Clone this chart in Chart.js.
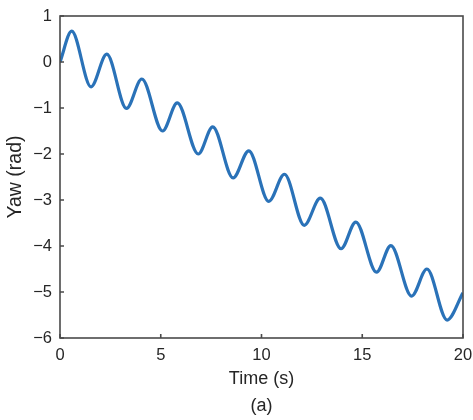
<!DOCTYPE html>
<html>
<head>
<meta charset="utf-8">
<script src="https://cdn.jsdelivr.net/npm/chart.js@4/dist/chart.umd.min.js"></script>
<style>
  html, body { margin: 0; padding: 0; background: #fff; }
  #wrap { width: 473px; height: 420px; }
</style>
</head>
<body>
<div id="wrap"><canvas id="myChart"></canvas></div>
<script>
// values (peaks and troughs of the yaw curve)
var timeS = [0, 0.58, 1.54, 2.32, 3.30, 4.06, 5.09, 5.82, 6.86, 7.58, 8.59, 9.37,
             10.36, 11.14, 12.12, 12.92, 13.95, 14.68, 15.71, 16.42, 17.45, 18.21, 19.21, 20];
var yawRad = [0, 0.67, -0.54, 0.17, -1.01, -0.37, -1.50, -0.89, -2.00, -1.41, -2.52, -1.93,
              -3.03, -2.44, -3.55, -2.96, -4.06, -3.48, -4.57, -3.99, -5.09, -4.50, -5.61, -5.02];
var xTicks = [0, 5, 10, 15, 20];
var yTicks = [1, 0, -1, -2, -3, -4, -5, -6];

var fontFam = '"Liberation Sans", Arial, sans-serif';
var textCol = '#262626';
var axisCol = '#4a4a4a';

// box around plot + short inward ticks
var boxPlugin = {
    id: 'box',
    afterDraw: function (chart) {
        var a = chart.chartArea, c = chart.ctx, xs = chart.scales.x, ys = chart.scales.y;
        c.save();
        c.strokeStyle = axisCol;
        c.lineWidth = 1.6;
        c.strokeRect(a.left, a.top, a.right - a.left, a.bottom - a.top);
        c.beginPath();
        xTicks.forEach(function (v) {
            var px = xs.getPixelForValue(v);
            c.moveTo(px, a.bottom);
            c.lineTo(px, a.bottom - 4);
        });
        yTicks.forEach(function (v) {
            var py = ys.getPixelForValue(v);
            c.moveTo(a.left, py);
            c.lineTo(a.left + 4, py);
        });
        c.stroke();
        c.restore();
    }
};

document.addEventListener('DOMContentLoaded', function () {
    var ctx = document.getElementById('myChart').getContext('2d');
    var pts = timeS.map(function (t, i) { return { x: t, y: yawRad[i] }; });
    new Chart(ctx, {
        type: 'line',
        data: {
            datasets: [{
                data: pts,
                borderColor: '#2a72b8',
                borderWidth: 3.2,
                pointRadius: 0,
                fill: false,
                cubicInterpolationMode: 'monotone'
            }]
        },
        options: {
            responsive: true,
            maintainAspectRatio: false,
            animation: false,
            layout: { padding: { top: 16, right: 10, left: 0, bottom: 0 } },
            plugins: { legend: { display: false }, tooltip: { enabled: false } },
            scales: {
                x: {
                    type: 'linear',
                    min: 0, max: 20,
                    afterBuildTicks: function (s) { s.ticks = xTicks.map(function (v) { return { value: v }; }); },
                    afterFit: function (s) { s.height = 82; s.paddingLeft = 0; s.paddingRight = 0; },
                    grid: { display: false, drawTicks: false },
                    border: { display: false },
                    ticks: { color: textCol, font: { family: fontFam, size: 16.5 }, padding: 8, maxRotation: 0 },
                    title: {
                        display: true,
                        text: ['Time (s)', '(a)'],
                        color: textCol,
                        font: { family: fontFam, size: 18, lineHeight: 1.5 },
                        padding: { top: 0, bottom: 0 }
                    }
                },
                y: {
                    min: -6, max: 1,
                    afterBuildTicks: function (s) { s.ticks = yTicks.map(function (v) { return { value: v }; }); },
                    afterFit: function (s) { s.width = 60; s.paddingTop = 0; s.paddingBottom = 0; },
                    grid: { display: false, drawTicks: false },
                    border: { display: false },
                    ticks: {
                        color: textCol, font: { family: fontFam, size: 16.5 }, padding: 8,
                        callback: function (v) { return String(v).replace('-', '\u2212'); }
                    },
                    title: {
                        display: true,
                        text: 'Yaw (rad)',
                        color: textCol,
                        font: { family: fontFam, size: 19.5 },
                        padding: { top: 4, bottom: 0 }
                    }
                }
            }
        },
        plugins: [boxPlugin]
    });
});
</script>
</body>
</html>
